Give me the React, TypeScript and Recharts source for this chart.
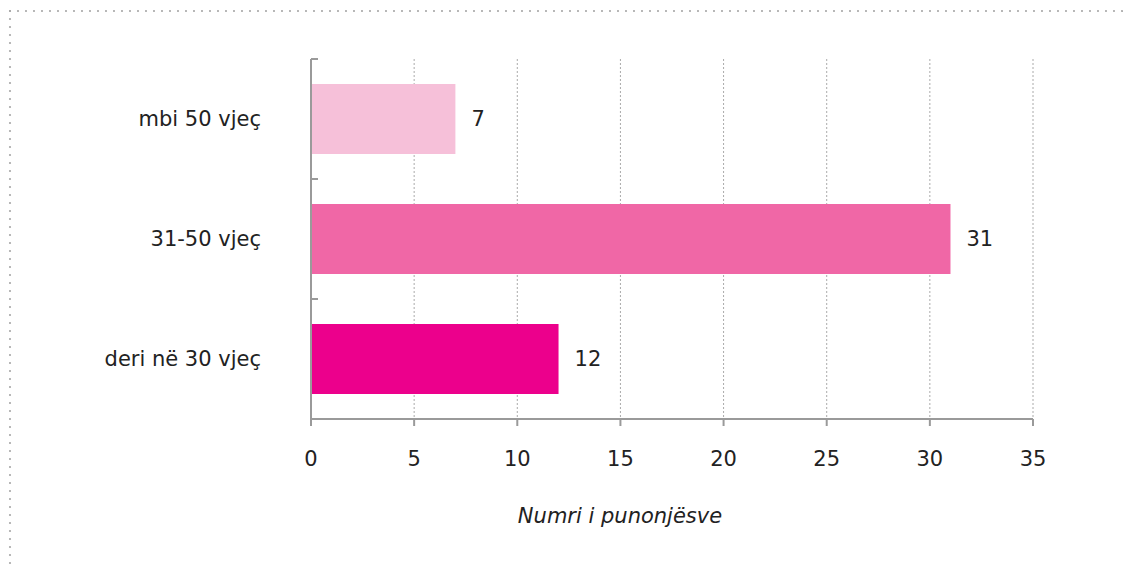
import React from "react";
import { BarChart, Bar, XAxis, YAxis, CartesianGrid, Cell, LabelList } from "recharts";

const categories = ["mbi 50 vjeç", "31-50 vjeç", "deri në 30 vjeç"];
const values = [7, 31, 12];
const colors = ["#F6C0D9", "#F067A6", "#EC008C"];
const xTicks = [0, 5, 10, 15, 20, 25, 30, 35];
const axisTitle = "Numri i punonjësve";

const data = categories.map((c, i) => ({ name: c, value: values[i] }));

const FONT = "'DejaVu Sans', sans-serif";
const AXIS = "#9a9a9a";
const CAT_MARGIN = 50;
const BAND_TICK = 7;

function CatTick(props: any) {
  const { x, y, payload, index, visibleTicksCount } = props;
  const axisX = x + CAT_MARGIN;
  const half = payload && payload.offset ? payload.offset : 0;
  const isLast = index === visibleTicksCount - 1;
  return (
    <g>
      <line x1={axisX} y1={y - half} x2={axisX + BAND_TICK} y2={y - half} stroke={AXIS} strokeWidth={2} />
      {isLast && (
        <line x1={axisX} y1={y + half} x2={axisX + BAND_TICK} y2={y + half} stroke={AXIS} strokeWidth={2} />
      )}
      <text x={x} y={y} dy="0.355em" textAnchor="end" fill="#222" fontSize={21} fontFamily={FONT}>
        {payload.value}
      </text>
    </g>
  );
}

export default function App() {
  return (
    <div style={{ position: "relative", width: 1123, height: 562, fontFamily: FONT }}>
      <svg width={1123} height={562} style={{ position: "absolute", left: 0, top: 0 }}>
        <line x1={2} y1={3} x2={1123} y2={3} stroke="#a8a8a8" strokeWidth={2.2} strokeDasharray="0 8" strokeLinecap="round" />
        <line x1={2} y1={3} x2={2} y2={562} stroke="#a8a8a8" strokeWidth={2.2} strokeDasharray="0 8" strokeLinecap="round" />
      </svg>
      <div style={{ position: "absolute", left: 0, top: 0 }}>
        <BarChart
          width={1123}
          height={562}
          data={data}
          layout="vertical"
          margin={{ top: 51, right: 98, bottom: 0, left: 0 }}
          barCategoryGap={25}
        >
          <CartesianGrid horizontal={false} stroke="#aaaaaa" strokeDasharray="2 2" />
          <XAxis
            type="number"
            domain={[0, 35]}
            ticks={xTicks}
            interval={0}
            height={151}
            axisLine={{ stroke: AXIS, strokeWidth: 2 }}
            tickLine={{ stroke: AXIS, strokeWidth: 2 }}
            tickSize={7}
            tickMargin={25}
            tick={{ fill: "#222", fontSize: 21, fontFamily: FONT }}
            label={{
              value: axisTitle,
              position: "insideTop",
              offset: 89,
              dx: -52,
              fill: "#222",
              fontSize: 21,
              fontStyle: "italic",
              fontFamily: FONT,
            }}
          />
          <YAxis
            type="category"
            dataKey="name"
            width={303}
            axisLine={{ stroke: AXIS, strokeWidth: 2 }}
            tickLine={false}
            tickSize={0}
            tickMargin={CAT_MARGIN}
            tick={<CatTick />}
          />
          <Bar dataKey="value" barSize={70} isAnimationActive={false}>
            {data.map((d, i) => (
              <Cell key={d.name} fill={colors[i]} />
            ))}
            <LabelList dataKey="value" position="right" offset={16} fill="#222" fontSize={21} fontFamily={FONT} />
          </Bar>
        </BarChart>
      </div>
    </div>
  );
}
